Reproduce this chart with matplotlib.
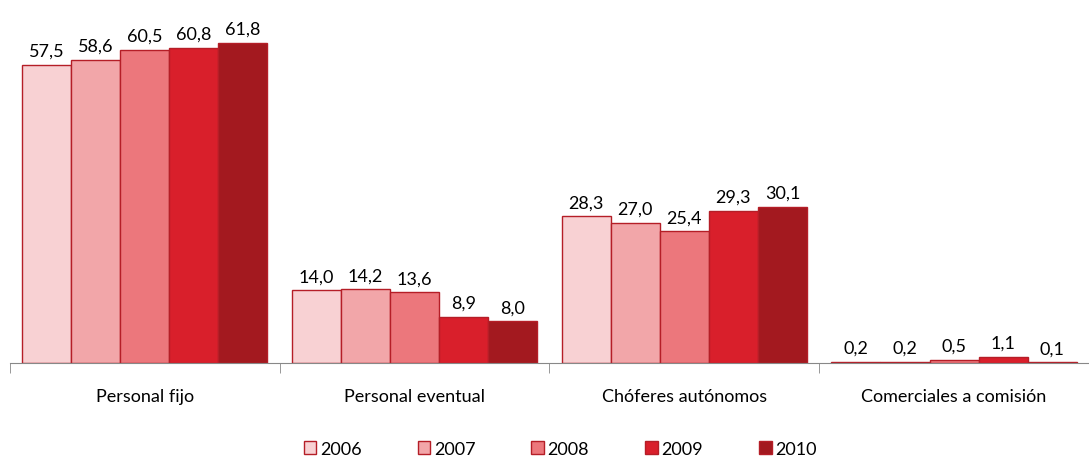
import numpy as np
import matplotlib.pyplot as plt

categories = ['Personal fijo', 'Personal eventual', 'Chóferes autónomos', 'Comerciales a comisión']
years = ['2006', '2007', '2008', '2009', '2010']
values = {
    '2006': [57.5, 14.0, 28.3, 0.2],
    '2007': [58.6, 14.2, 27.0, 0.2],
    '2008': [60.5, 13.6, 25.4, 0.5],
    '2009': [60.8, 8.9, 29.3, 1.1],
    '2010': [61.8, 8.0, 30.1, 0.1],
}
colors = ['#F8D1D3', '#F2A6A9', '#EC777C', '#D91F2B', '#A3191F']

plt.rcParams['font.family'] = ['Lato', 'DejaVu Sans']

fig = plt.figure(figsize=(10.89, 4.6), dpi=100)
ax = fig.add_axes([0.009, 0.209, 0.991, 0.791])

x = np.arange(len(categories))
width = 0.182
for i, (yr, col) in enumerate(zip(years, colors)):
    pos = x + (i - 2) * width
    bars = ax.bar(pos, values[yr], width, color=col, edgecolor='#B51E27',
                  linewidth=1.0, label=yr)
    for b, v in zip(bars, values[yr]):
        ax.text(b.get_x() + b.get_width() / 2, v + 1.2, f'{v:.1f}'.replace('.', ','),
                ha='center', va='bottom', fontsize=13)

ax.set_xlim(-0.5, 3.5)
ax.set_ylim(0, 70.3)
ax.set_yticks([])
for s in ['top', 'right', 'left']:
    ax.spines[s].set_visible(False)
ax.spines['bottom'].set_color('#888888')
ax.set_xticks(x)
ax.set_xticklabels(categories, fontsize=13)
ax.tick_params(axis='x', which='major', length=0, pad=18)
ax.set_xticks(np.arange(-0.5, 4.0, 1.0), minor=True)
ax.tick_params(axis='x', which='minor', length=7, color='#888888', direction='out')

ax.legend(loc='center', bbox_to_anchor=(0.51, -0.236), ncol=5, frameon=False,
          fontsize=13, handlelength=0.7, handleheight=0.7, handletextpad=0.2,
          columnspacing=3.1)

fig.savefig('out.png', dpi=100)
